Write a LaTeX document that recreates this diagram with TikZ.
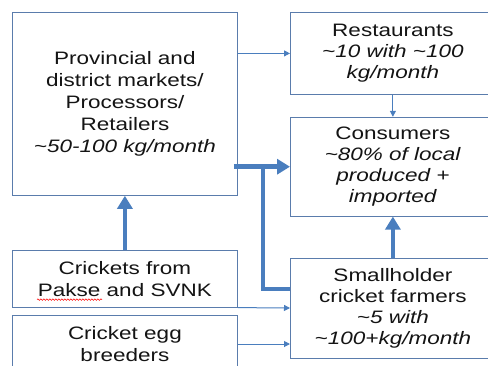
\documentclass[tikz,border=0pt]{standalone}
\usepackage{fontspec}
\setmainfont{Liberation Sans}[FakeStretch=1.25]
\usepackage{tikz}
\usetikzlibrary{arrows.meta,positioning,decorations.pathmorphing}
\definecolor{FrameBlue}{RGB}{90,124,172}
\definecolor{FlowBlue}{RGB}{74,126,190}
\definecolor{Ink}{RGB}{20,20,20}
\tikzset{
  chainbox/.style={draw=FrameBlue, line width=0.8pt, fill=white, text=Ink, align=center,
    inner sep=3pt, font=\fontsize{18}{22}\selectfont},
  thinarr/.style={-{Triangle[length=6pt, width=6pt]}, draw=FlowBlue, line width=1pt},
  thickarr/.style={-{Triangle[length=13pt, width=15pt]}, draw=FlowBlue, line width=4.5pt},
  thickline/.style={draw=FlowBlue, line width=4.5pt, line join=miter},
  spellmark/.style={draw=red, line width=0.5pt, decorate,
    decoration={snake, amplitude=0.8pt, segment length=3pt}},
}
\newcommand{\qty}[1]{\textit{#1}}
\newcommand{\apx}{\textasciitilde}

\begin{document}
\begin{tikzpicture}[x=1pt, y=-1pt]
  \useasboundingbox (0,0) rectangle (488,365);
  % left column
  \node[chainbox, anchor=north west, minimum width=225pt, minimum height=183pt] (prov) at (12,12)
    {Provincial and\\ district markets/\\ Processors/\\ Retailers\\ \qty{\apx50-100 kg/month}};
  \node[chainbox, below=54pt of prov, minimum width=225pt, minimum height=57pt] (crk)
    {Crickets from\\ Pakse and SVNK};
  \node[chainbox, below=7pt of crk, minimum width=225pt, minimum height=58pt] (egg)
    {Cricket egg\\ breeders};
  % right column
  \node[chainbox, anchor=north west, minimum width=205pt, minimum height=82pt,
    font=\fontsize{18}{21}\selectfont] (rest) at (290,12)
    {Restaurants\\ \qty{\apx10 with \apx100}\\ \qty{kg/month}};
  \node[chainbox, below=22pt of rest, minimum width=205pt, minimum height=99pt,
    font=\fontsize{18}{21}\selectfont] (cons)
    {Consumers\\ \qty{\apx80\% of local}\\ \qty{produced +}\\ \qty{imported}};
  \node[chainbox, below=41pt of cons, minimum width=205pt, minimum height=100pt,
    font=\fontsize{18}{21}\selectfont] (small)
    {Smallholder\\ cricket farmers\\ \qty{\apx5 with}\\ \qty{\apx100+kg/month}};
  % spell-check underline under Pakse
  \draw[spellmark] ([shift={(25,-8)}]crk.south west) -- ([shift={(90,-8)}]crk.south west);
  % flows
  \draw[thinarr] (rest.west -| prov.east) -- (rest.west);
  \draw[thinarr] (rest) -- (cons);
  \draw[thickline] ([yshift=19pt]small.west) -| ([xshift=-27pt]cons.west);
  \draw[thickarr] ([xshift=-4pt]cons.west -| prov.east) -- (cons.west);
  \draw[thickarr] (small) -- (cons);
  \draw[thickarr] (crk) -- (prov);
  \draw[thinarr] (crk.south east) -- (small.west);
  \draw[thinarr] (egg.east) -- (egg.east -| small.west);
\end{tikzpicture}
\end{document}
